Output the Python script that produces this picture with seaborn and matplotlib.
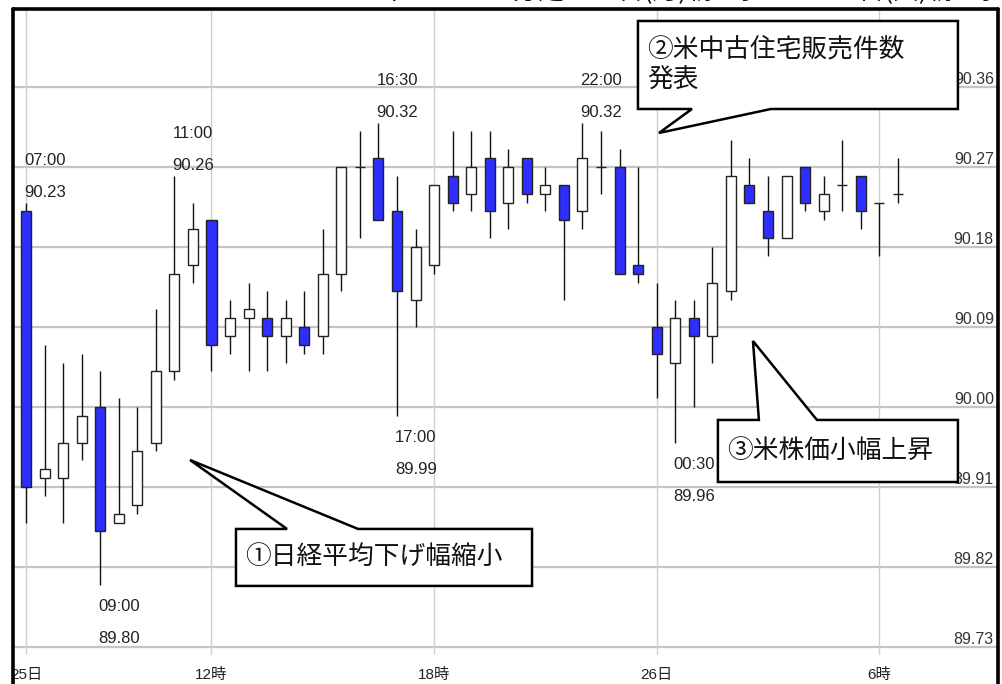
import numpy as np
import seaborn as sns
import matplotlib.pyplot as plt
from matplotlib.lines import Line2D
from matplotlib.patches import Polygon

# 30-minute candles, 25日 07:00 -> 26日 06:30
times = ["07:00", "07:30", "08:00", "08:30", "09:00", "09:30", "10:00", "10:30",
         "11:00", "11:30", "12:00", "12:30", "13:00", "13:30", "14:00", "14:30",
         "15:00", "15:30", "16:00", "16:30", "17:00", "17:30", "18:00", "18:30",
         "19:00", "19:30", "20:00", "20:30", "21:00", "21:30", "22:00", "22:30",
         "23:00", "23:30", "00:00", "00:30", "01:00", "01:30", "02:00", "02:30",
         "03:00", "03:30", "04:00", "04:30", "05:00", "05:30", "06:00", "06:30"]
opens = [90.22, 89.92, 89.92, 89.96, 90.00, 89.87, 89.89, 89.96,
         90.04, 90.16, 90.21, 90.08, 90.10, 90.10, 90.08, 90.09,
         90.08, 90.15, 90.27, 90.28, 90.22, 90.12, 90.16, 90.26,
         90.24, 90.28, 90.23, 90.28, 90.24, 90.25, 90.22, 90.27,
         90.27, 90.16, 90.09, 90.05, 90.10, 90.08, 90.13, 90.25,
         90.22, 90.19, 90.27, 90.22, 90.25, 90.26, 90.23, 90.24]
highs = [90.23, 90.07, 90.05, 90.06, 90.04, 90.01, 90.00, 90.11,
         90.26, 90.23, 90.21, 90.12, 90.14, 90.13, 90.12, 90.13,
         90.20, 90.27, 90.31, 90.32, 90.26, 90.20, 90.25, 90.31,
         90.31, 90.31, 90.29, 90.28, 90.27, 90.25, 90.32, 90.31,
         90.29, 90.27, 90.14, 90.12, 90.12, 90.18, 90.30, 90.28,
         90.26, 90.26, 90.27, 90.26, 90.30, 90.26, 90.23, 90.28]
lows = [89.87, 89.90, 89.87, 89.94, 89.80, 89.87, 89.88, 89.95,
        90.03, 90.14, 90.04, 90.06, 90.04, 90.04, 90.05, 90.06,
        90.06, 90.13, 90.19, 90.21, 89.99, 90.09, 90.15, 90.22,
        90.22, 90.19, 90.20, 90.23, 90.22, 90.12, 90.20, 90.24,
        90.15, 90.14, 90.01, 89.96, 90.00, 90.05, 90.12, 90.23,
        90.17, 90.19, 90.22, 90.21, 90.22, 90.20, 90.17, 90.23]
closes = [89.91, 89.93, 89.96, 89.99, 89.86, 89.88, 89.95, 90.04,
          90.15, 90.20, 90.07, 90.10, 90.11, 90.08, 90.10, 90.07,
          90.15, 90.27, 90.27, 90.21, 90.13, 90.18, 90.25, 90.23,
          90.27, 90.22, 90.27, 90.24, 90.25, 90.21, 90.28, 90.27,
          90.15, 90.15, 90.06, 90.10, 90.08, 90.14, 90.26, 90.23,
          90.19, 90.26, 90.23, 90.24, 90.25, 90.22, 90.23, 90.24]

xtick_pos = [0, 10, 22, 34, 46]
xtick_labels = ["25日", "12時", "18時", "26日", "6時"]
ytick_values = [89.73, 89.82, 89.91, 90.00, 90.09, 90.18, 90.27, 90.36]

high_marks = [0, 8, 19, 30]   # 07:00, 11:00, 16:30, 22:00
low_marks = [4, 20, 35]       # 09:00, 17:00, 00:30

title = "チャート：30分足　25日(月)朝7時　～　26日(火)朝7時"

# callouts: (text, box x0, x1, y0, y1, pointer base x0, x1, tip x, tip y, pointer side)
callouts = [
    ("①日経平均下げ幅縮小", 11.32, 27.28, 89.7987, 89.8628, 14.07, 17.90, 8.84, 89.9404, "top"),
    ("②米中古住宅販売件数\n発表", 32.99, 50.24, 90.3352, 90.4342, 35.90, 40.16, 34.12, 90.3082, "bottom"),
    ("③米株価小幅上昇", 37.30, 50.24, 89.9156, 89.9854, 39.51, 42.64, 39.19, 90.0742, "top"),
]

sns.set_theme(style="white")
NARROW = ["Liberation Sans Narrow", "Liberation Sans", "Noto Sans CJK JP", "DejaVu Sans"]
CJK = ["Noto Sans CJK JP", "DejaVu Sans"]
plt.rcParams["font.family"] = NARROW

W, H = 1003, 684
fig = plt.figure(figsize=(W / 100, H / 100), dpi=100)
ax = fig.add_axes([14 / W, 1 - 655 / H, (998 - 14) / W, (655 - 8) / H])

x = np.arange(len(times))
o = np.array(opens)
c = np.array(closes)
up = c >= o
body_w = 0.54

# wicks
ax.vlines(x, lows, highs, color="#111111", lw=1.0, zorder=3)
# bodies
ax.bar(x[up], (c - o)[up], bottom=o[up], width=body_w, color="white",
       edgecolor="#222222", linewidth=1.0, zorder=4)
ax.bar(x[~up], (o - c)[~up], bottom=c[~up], width=body_w, color="#2e2eff",
       edgecolor="#222222", linewidth=1.0, zorder=4)

ax.set_xlim(-0.647, 52.40)
ax.set_ylim(89.721, 90.4488)

# grid
for v in ytick_values:
    ax.axhline(v, color="#c4c4c4", lw=1.6, zorder=1)
for p in xtick_pos:
    ax.axvline(p, color="#cfcfcf", lw=1.0, zorder=1)

ax.set_xticks(xtick_pos)
ax.set_xticklabels(xtick_labels, fontsize=11, color="#222222")
ax.tick_params(axis="x", length=0, pad=9)

ax.yaxis.tick_right()
ax.set_yticks(ytick_values)
ax.set_yticklabels([f"{v:.2f}" for v in ytick_values], fontsize=11.5, color="#333333")
ax.tick_params(axis="y", length=0, pad=-3)
for lab in ax.get_yticklabels():
    lab.set_ha("right")
    lab.set_va("bottom")

for s in ax.spines.values():
    s.set_visible(False)
ax.grid(False)

# high / low value labels
lab_kw = dict(textcoords="offset pixels", ha="left", va="center",
              fontsize=12, color="#222222", zorder=6)
for i in high_marks:
    ax.annotate(times[i], (x[i], highs[i]), xytext=(-2, 42), **lab_kw)
    ax.annotate(f"{highs[i]:.2f}", (x[i], highs[i]), xytext=(-2, 10), **lab_kw)
for i in low_marks:
    ax.annotate(times[i], (x[i], lows[i]), xytext=(-2, -22), **lab_kw)
    ax.annotate(f"{lows[i]:.2f}", (x[i], lows[i]), xytext=(-2, -54), **lab_kw)

# callout boxes with pointers
for text, x0, x1, y0, y1, b0, b1, tx, ty, side in callouts:
    if side == "top":
        pts = [(x0, y1), (b0, y1), (tx, ty), (b1, y1), (x1, y1), (x1, y0), (x0, y0)]
    else:
        pts = [(x0, y1), (x1, y1), (x1, y0), (b1, y0), (tx, ty), (b0, y0), (x0, y0)]
    ax.add_patch(Polygon(pts, closed=True, facecolor="white", edgecolor="black",
                         lw=1.8, zorder=8, joinstyle="miter"))
    ax.text(x0 + 0.5, (y0 + y1) / 2, text, ha="left", va="center", fontsize=18.5,
            family=CJK, color="#111111", linespacing=1.25, zorder=9)

# outer frame (left, top, right), running down to the figure bottom
fr = dict(color="black", lw=2.6, transform=fig.transFigure)
fig.add_artist(Line2D([13.5 / W, 13.5 / W], [0, 1 - 8.5 / H], **fr))
fig.add_artist(Line2D([13.5 / W, 998.5 / W], [1 - 8.5 / H, 1 - 8.5 / H], **fr))
fig.add_artist(Line2D([998.5 / W, 998.5 / W], [0, 1 - 8.5 / H], **fr))

# title line, cut off at the top edge of the image
fig.text(993 / W, 1 + 8 / H, title, ha="right", va="center", fontsize=18.5,
         family=CJK, color="#111111")

fig.savefig("out.png", dpi=100)
